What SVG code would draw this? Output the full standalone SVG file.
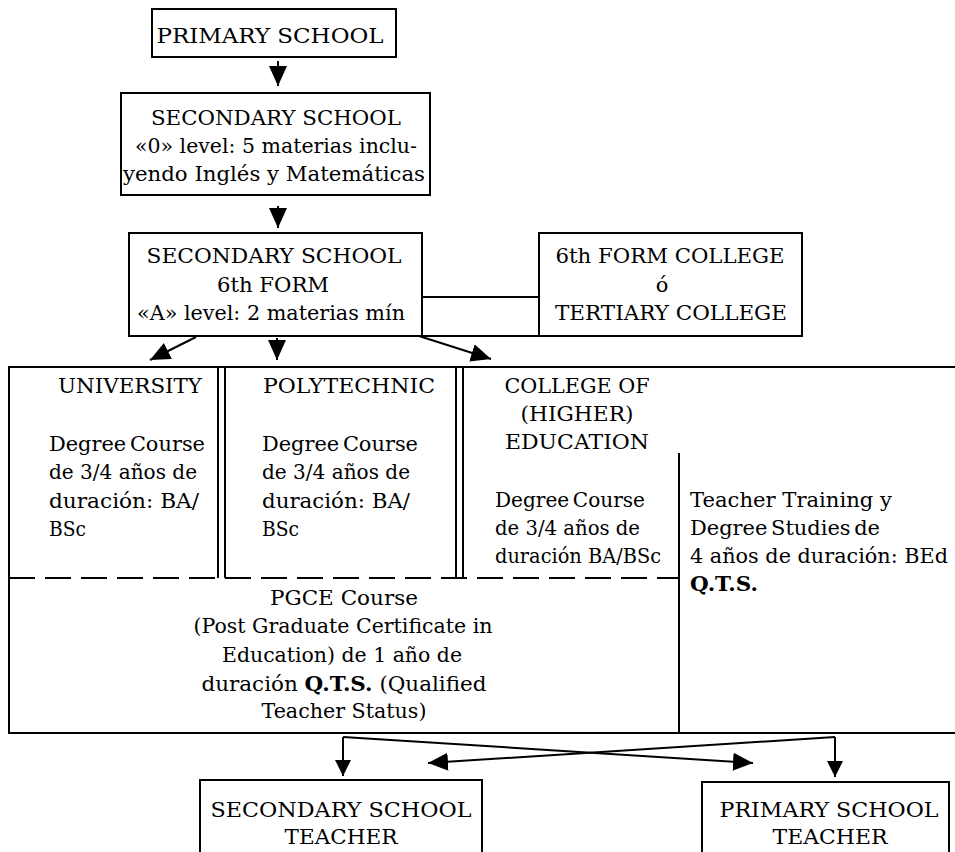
<svg xmlns="http://www.w3.org/2000/svg" width="955" height="852" viewBox="0 0 955 852">
<style>
text{font-family:"DejaVu Serif","Liberation Serif",serif;font-size:21px;fill:#000}
.m{text-anchor:middle}
.b{font-weight:bold}
.box{fill:#fff;stroke:#000;stroke-width:2}
.ln{fill:none;stroke:#000;stroke-width:2}
.ar{fill:none;stroke:#000;stroke-width:2;marker-end:url(#ah)}
.as{fill:none;stroke:#000;stroke-width:2;marker-end:url(#ahs)}
.dash{fill:none;stroke:#000;stroke-width:2;stroke-dasharray:26 10}
</style>
<defs>
<marker id="ah" viewBox="0 0 20 18" refX="20" refY="9" markerWidth="20" markerHeight="18" markerUnits="userSpaceOnUse" orient="auto"><path d="M0,0 L20,9 L0,18 z" fill="#000"/></marker>
<marker id="ahs" viewBox="0 0 16 16" refX="16" refY="8" markerWidth="16" markerHeight="16" markerUnits="userSpaceOnUse" orient="auto"><path d="M0,0 L16,8 L0,16 z" fill="#000"/></marker>
</defs>
<rect width="955" height="852" fill="#fff"/>

<g id="connectors">
<line class="ar" x1="278" y1="61" x2="278" y2="86"/>
<line class="ar" x1="278" y1="206" x2="278" y2="228"/>
<line class="ln" x1="422" y1="297" x2="539" y2="297"/>
<line class="ln" x1="422" y1="336" x2="539" y2="336"/>
<line class="ar" x1="196" y1="337" x2="150" y2="360"/>
<line class="ar" x1="277" y1="338" x2="277" y2="360"/>
<line class="ar" x1="419" y1="336" x2="491" y2="359"/>
<line class="as" x1="343" y1="737" x2="343" y2="776"/>
<line class="as" x1="835" y1="737" x2="835" y2="777"/>
<line class="ar" x1="343" y1="737" x2="753" y2="763"/>
<line class="ar" x1="835" y1="737" x2="428" y2="763"/>
</g>

<g id="primary-school">
<rect class="box" x="152" y="9" width="244" height="48"/>
<text class="m" x="270" y="43" textLength="227" lengthAdjust="spacingAndGlyphs">PRIMARY SCHOOL</text>
</g>

<g id="secondary-school">
<rect class="box" x="121" y="93" width="309" height="102"/>
<text class="m" x="276" y="125" textLength="250" lengthAdjust="spacingAndGlyphs">SECONDARY SCHOOL</text>
<text class="m" x="276" y="153" textLength="282" lengthAdjust="spacingAndGlyphs">«0» level: 5 materias inclu-</text>
<text class="m" x="274" y="181" textLength="302" lengthAdjust="spacingAndGlyphs">yendo Inglés y Matemáticas</text>
</g>

<g id="sixth-form">
<rect class="box" x="129" y="233" width="293" height="103"/>
<text class="m" x="274" y="263" textLength="255" lengthAdjust="spacingAndGlyphs">SECONDARY SCHOOL</text>
<text class="m" x="273" y="292" textLength="112" lengthAdjust="spacingAndGlyphs">6th FORM</text>
<text class="m" x="271" y="320" textLength="268" lengthAdjust="spacingAndGlyphs">«A» level: 2 materias mín</text>
</g>

<g id="sixth-form-college">
<rect class="box" x="539" y="233" width="263" height="103"/>
<text class="m" x="670" y="263" textLength="229" lengthAdjust="spacingAndGlyphs">6th FORM COLLEGE</text>
<text class="m" x="662" y="292">ó</text>
<text class="m" x="671" y="320" textLength="232" lengthAdjust="spacingAndGlyphs">TERTIARY COLLEGE</text>
</g>

<g id="higher-education">
<path class="ln" d="M955,367 H9 V733 H955"/>
<line class="ln" x1="218" y1="367" x2="218" y2="578"/>
<line class="ln" x1="225" y1="367" x2="225" y2="578"/>
<line class="ln" x1="456" y1="367" x2="456" y2="578"/>
<line class="ln" x1="463" y1="367" x2="463" y2="578"/>
<line class="dash" x1="9" y1="578" x2="679" y2="578"/>
<line class="ln" x1="679" y1="453" x2="679" y2="733"/>
</g>

<g id="university">
<text x="58" y="393" textLength="144" lengthAdjust="spacingAndGlyphs">UNIVERSITY</text>
<text x="49" y="451" textLength="156" lengthAdjust="spacingAndGlyphs" word-spacing="-3">Degree Course</text>
<text x="49" y="479" textLength="148" lengthAdjust="spacingAndGlyphs">de 3/4 años de</text>
<text x="49" y="508" textLength="150" lengthAdjust="spacingAndGlyphs">duración: BA/</text>
<text x="49" y="536" textLength="37" lengthAdjust="spacingAndGlyphs">BSc</text>
</g>

<g id="polytechnic">
<text x="263" y="393" textLength="172" lengthAdjust="spacingAndGlyphs">POLYTECHNIC</text>
<text x="262" y="451" textLength="156" lengthAdjust="spacingAndGlyphs" word-spacing="-3">Degree Course</text>
<text x="262" y="479" textLength="148" lengthAdjust="spacingAndGlyphs">de 3/4 años de</text>
<text x="262" y="508" textLength="148" lengthAdjust="spacingAndGlyphs">duración: BA/</text>
<text x="262" y="536" textLength="37" lengthAdjust="spacingAndGlyphs">BSc</text>
</g>

<g id="college-higher-education">
<text class="m" x="577" y="393" textLength="145" lengthAdjust="spacingAndGlyphs">COLLEGE OF</text>
<text class="m" x="577" y="421" textLength="113" lengthAdjust="spacingAndGlyphs">(HIGHER)</text>
<text class="m" x="577" y="449" textLength="144" lengthAdjust="spacingAndGlyphs">EDUCATION</text>
<text x="495" y="507" textLength="150" lengthAdjust="spacingAndGlyphs" word-spacing="-3">Degree Course</text>
<text x="495" y="535" textLength="145" lengthAdjust="spacingAndGlyphs">de 3/4 años de</text>
<text x="495" y="563" textLength="166" lengthAdjust="spacingAndGlyphs">duración BA/BSc</text>
</g>

<g id="teacher-training">
<text x="690" y="507" textLength="202" lengthAdjust="spacingAndGlyphs">Teacher Training y</text>
<text x="690" y="535" textLength="190" lengthAdjust="spacingAndGlyphs" word-spacing="-3">Degree Studies de</text>
<text x="690" y="563" textLength="258" lengthAdjust="spacingAndGlyphs">4 años de duración: BEd</text>
<text class="b" x="690" y="591" textLength="68" lengthAdjust="spacingAndGlyphs">Q.T.S.</text>
</g>

<g id="pgce">
<text class="m" x="344" y="605" textLength="148" lengthAdjust="spacingAndGlyphs">PGCE Course</text>
<text class="m" x="343" y="633" textLength="299" lengthAdjust="spacingAndGlyphs">(Post Graduate Certificate in</text>
<text class="m" x="342" y="662" textLength="240" lengthAdjust="spacingAndGlyphs">Education) de 1 año de</text>
<text class="m" x="344" y="691" textLength="285" lengthAdjust="spacingAndGlyphs">duración <tspan class="b">Q.T.S.</tspan> (Qualified</text>
<text class="m" x="344" y="718" textLength="165" lengthAdjust="spacingAndGlyphs">Teacher Status)</text>
</g>

<g id="secondary-teacher">
<rect class="box" x="200" y="780" width="282" height="90"/>
<text class="m" x="341" y="817" textLength="261" lengthAdjust="spacingAndGlyphs">SECONDARY SCHOOL</text>
<text class="m" x="341" y="844" textLength="113" lengthAdjust="spacingAndGlyphs">TEACHER</text>
</g>

<g id="primary-teacher">
<rect class="box" x="702" y="782" width="247" height="90"/>
<text class="m" x="829" y="817" textLength="219" lengthAdjust="spacingAndGlyphs">PRIMARY SCHOOL</text>
<text class="m" x="830" y="844" textLength="115" lengthAdjust="spacingAndGlyphs">TEACHER</text>
</g>
</svg>
